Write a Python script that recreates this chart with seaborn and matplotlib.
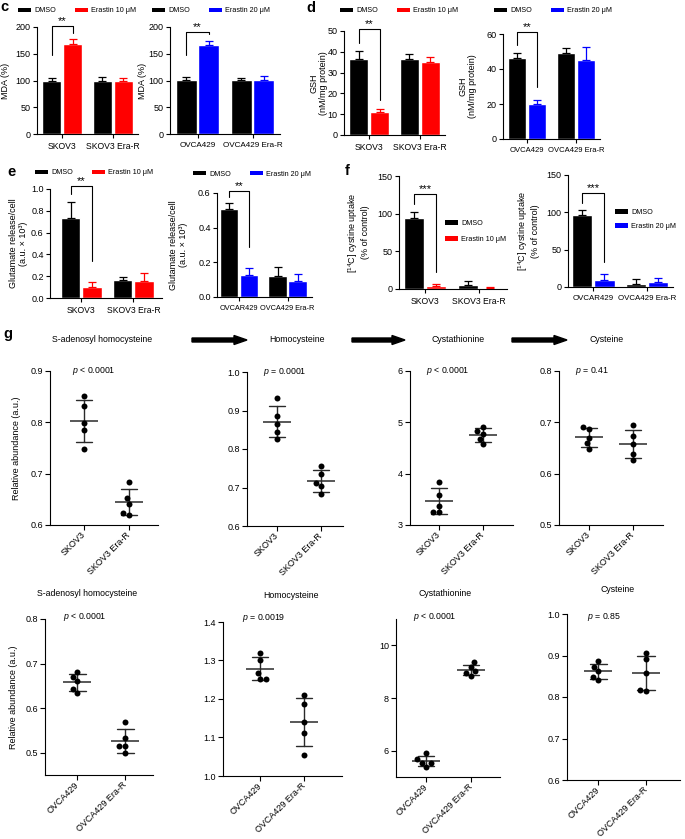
import numpy as np
import pandas as pd
import matplotlib
matplotlib.use("Agg")
import matplotlib.pyplot as plt
import seaborn as sns
from matplotlib.patches import Patch, FancyArrow

# ---------------- data ----------------
skov_cells = ["SKOV3", "SKOV3 Era-R"]
ovca_cells = ["OVCA429", "OVCA429 Era-R"]
ovcar_cells = ["OVCAR429", "OVCA429 Era-R"]
treat10 = ["DMSO", "Erastin 10 \u03bcM"]
treat20 = ["DMSO", "Erastin 20 \u03bcM"]

# order: cell0-DMSO, cell0-Erastin, cell1-DMSO, cell1-Erastin
mda_skov = [100, 168, 100, 100]
mda_skov_err = [5, 9, 6, 4]
mda_ovca = [101, 166, 101, 101]
mda_ovca_err = [6, 8, 4, 7]

gsh_skov = [36.7, 11.0, 36.7, 35.2]
gsh_skov_err = [3.7, 1.3, 2.1, 2.4]
gsh_ovca = [46.1, 19.9, 49.1, 45.3]
gsh_ovca_err = [3.0, 2.5, 2.9, 7.1]

glu_skov = [0.73, 0.101, 0.163, 0.153]
glu_skov_err = [0.147, 0.043, 0.030, 0.077]
glu_ovca = [0.509, 0.126, 0.122, 0.091]
glu_ovca_err = [0.033, 0.042, 0.052, 0.044]

cys_skov = [93.7, 3.5, 4.8, 1.3]
cys_skov_err = [8.8, 3.1, 6.2, 0.9]
cys_ovca = [96.6, 9.8, 4.5, 6.7]
cys_ovca_err = [6.6, 7.6, 6.2, 5.3]

# panel g (relative abundance, 5 replicates each)
sah_skov = [0.851, 0.832, 0.798, 0.785, 0.748]
sah_skov_r = [0.683, 0.652, 0.641, 0.624, 0.620]
hcy_skov = [0.932, 0.887, 0.864, 0.844, 0.827]
hcy_skov_r = [0.755, 0.736, 0.712, 0.704, 0.682]
cth_skov = [3.844, 3.584, 3.37, 3.25, 3.25]
cth_skov_r = [4.91, 4.83, 4.78, 4.67, 4.57]
cys_g_skov = [0.690, 0.687, 0.670, 0.659, 0.648]
cys_g_skov_r = [0.695, 0.674, 0.657, 0.639, 0.627]

sah_ovca = [0.682, 0.670, 0.660, 0.643, 0.634]
sah_ovca_r = [0.570, 0.532, 0.514, 0.514, 0.499]
hcy_ovca = [1.320, 1.302, 1.268, 1.253, 1.253]
hcy_ovca_r = [1.210, 1.187, 1.141, 1.112, 1.054]
cth_ovca = [5.90, 5.68, 5.55, 5.55, 5.39]
cth_ovca_r = [9.36, 9.02, 9.17, 8.96, 8.85]
cys_g_ovca = [0.886, 0.872, 0.862, 0.849, 0.841]
cys_g_ovca_r = [0.907, 0.891, 0.859, 0.817, 0.815]

metabolites = ["S-adenosyl homocysteine", "Homocysteine", "Cystathionine", "Cysteine"]
p_skov = ["$p$ < 0.0001", "$p$ = 0.0001", "$p$ < 0.0001", "$p$ = 0.41"]
p_ovca = ["$p$ < 0.0001", "$p$ = 0.0019", "$p$ < 0.0001", "$p$ = 0.85"]

RED = "#FF0000"
BLUE = "#0000FF"

# ---------------- style ----------------
sns.set_theme(style="ticks")
plt.rcParams["font.family"] = ["Liberation Sans", "DejaVu Sans"]
plt.rcParams.update({
    "mathtext.fontset": "custom",
    "mathtext.rm": "Liberation Sans",
    "mathtext.it": "Liberation Sans:italic",
    "axes.linewidth": 0.8,
    "xtick.major.width": 0.8, "ytick.major.width": 0.8,
    "xtick.major.size": 3, "ytick.major.size": 3,
    "xtick.labelsize": 6.5, "ytick.labelsize": 6.5,
    "xtick.major.pad": 2.5, "ytick.major.pad": 1.5,
    "axes.edgecolor": "black", "xtick.color": "black", "ytick.color": "black",
    "text.color": "black", "axes.labelcolor": "black",
})

W, H = 685, 839
fig = plt.figure(figsize=(W / 100, H / 100), dpi=100)


def fx(x):
    return x / W


def fy(y):
    return 1 - y / H


def add_ax(box):
    x0, y0, x1, y1 = box
    return fig.add_axes([x0 / W, 1 - y1 / H, (x1 - x0) / W, (y1 - y0) / H])


def set_ylabel(ax, box, text, right_x, fs=6.5):
    ax.set_ylabel(text, fontsize=fs, linespacing=1.1)
    ax.yaxis.set_label_coords((right_x - box[0]) / (box[2] - box[0]), 0.5)


def add_legend(ax, labels, colors, x, y, ncol, spacing=1.2):
    handles = [Patch(facecolor=c, edgecolor="none") for c in colors]
    ax.legend(handles, labels, ncol=ncol, frameon=False, loc="center left",
              bbox_to_anchor=(fx(x), fy(y)), bbox_transform=fig.transFigure,
              fontsize=5.2, handlelength=1.8, handleheight=0.6, handletextpad=0.45,
              columnspacing=2.6, borderpad=0, borderaxespad=0, labelspacing=spacing)


def bar_panel(box, cells, treats, means, errs, color2, ylim, yticks, xlim,
              ylabel, ylab_x, bracket, stars, xfs=6.2):
    ax = add_ax(box)
    df = pd.DataFrame({"cell": np.repeat(cells, 2), "treatment": treats * 2, "value": means})
    sns.barplot(data=df, x="cell", y="value", hue="treatment", order=cells, hue_order=treats,
                palette=["black", color2], saturation=1, width=0.82, gap=0.08,
                errorbar=None, legend=False, ax=ax)
    bars = sorted(ax.patches, key=lambda p: p.get_x())
    centers = []
    for p, e in zip(bars, errs):
        xc = p.get_x() + p.get_width() / 2
        centers.append(xc)
        ax.errorbar(xc, p.get_height(), yerr=[[0], [e]], fmt="none", ecolor=p.get_facecolor(),
                    elinewidth=0.9, capsize=3.2, capthick=0.9, clip_on=False)
    yt, yl, yr = bracket
    x0, x1 = centers[0], centers[1]
    ax.plot([x0, x0, x1, x1], [yl, yt, yt, yr], color="black", lw=0.8, clip_on=False)
    ax.text((x0 + x1) / 2, yt, stars, ha="center", va="bottom", fontsize=8, clip_on=False)
    ax.set_ylim(*ylim)
    ax.set_yticks(yticks)
    ax.set_xlim(*xlim)
    ax.set_xlabel("")
    set_ylabel(ax, box, ylabel, ylab_x)
    sns.despine(ax=ax)
    ax.tick_params(axis="x", labelsize=xfs)
    return ax


def dot_panel(box, cells, a, b, ylim, yticks, xlim, ylabel=None, ylab_x=None):
    ax = add_ax(box)
    df = pd.DataFrame({"cell": [cells[0]] * len(a) + [cells[1]] * len(b), "value": a + b})
    sns.pointplot(data=df, x="cell", y="value", order=cells, errorbar="sd", capsize=0.36,
                  color="#2a2a2a", markers="_", linestyles="none", markersize=20,
                  markeredgewidth=1.1, err_kws={"linewidth": 1.0}, ax=ax)
    sns.swarmplot(data=df, x="cell", y="value", order=cells, color="black", size=4.3,
                  ax=ax, zorder=4)
    ax.set_ylim(*ylim)
    ax.set_yticks(yticks)
    ax.set_xlim(*xlim)
    ax.set_xlabel("")
    ax.set_ylabel("")
    if ylabel:
        set_ylabel(ax, box, ylabel, ylab_x)
    sns.despine(ax=ax)
    ax.tick_params(axis="both", length=3.5, labelsize=6.5)
    for lab in ax.get_xticklabels():
        lab.set_rotation(45)
        lab.set_ha("right")
        lab.set_va("center")
        lab.set_rotation_mode("anchor")
    return ax


# ---------------- panel c ----------------
bar_panel((37, 27, 138, 134), skov_cells, treat10, mda_skov, mda_skov_err, RED,
          (0, 200), [0, 50, 100, 150, 200], (-0.5, 1.5), "MDA (%)", 10, (202, 147, 188), "**")
add_legend(fig.axes[-1], treat10, ["black", RED], 18, 11, 2)
bar_panel((170, 27, 280, 134), ovca_cells, treat20, mda_ovca, mda_ovca_err, BLUE,
          (0, 200), [0, 50, 100, 150, 200], (-0.5, 1.5), "MDA (%)", 147, (190, 147, 186), "**",
          xfs=5.9)
add_legend(fig.axes[-1], treat20, ["black", BLUE], 152, 11, 2)

# ---------------- panel d ----------------
bar_panel((344, 31, 445, 135), skov_cells, treat10, gsh_skov, gsh_skov_err, RED,
          (0, 50), [0, 10, 20, 30, 40, 50], (-0.5, 1.5), "GSH\n(nM/mg protein)", 328,
          (51, 44.4, 16.8), "**")
add_legend(fig.axes[-1], treat10, ["black", RED], 340, 11, 2)
bar_panel((503, 34, 600, 139), ovca_cells, treat20, gsh_ovca, gsh_ovca_err, BLUE,
          (0, 60), [0, 20, 40, 60], (-0.5, 1.5), "GSH\n(nM/mg protein)", 477,
          (61, 53.5, 30), "**", xfs=5.5)
add_legend(fig.axes[-1], treat20, ["black", BLUE], 494, 11, 2)

# ---------------- panel e ----------------
bar_panel((50, 189, 162, 298), skov_cells, treat10, glu_skov, glu_skov_err, RED,
          (0, 1.0), [0, 0.2, 0.4, 0.6, 0.8, 1.0], (-0.6, 1.55),
          "Glutamate release/cell\n(a.u. \u00d7 10\u00b3)", 28, (1.03, 0.95, 0.337), "**")
add_legend(fig.axes[-1], treat10, ["black", RED], 35, 173, 2)
bar_panel((217, 193, 312, 297), ovcar_cells, treat20, glu_ovca, glu_ovca_err, BLUE,
          (0, 0.6), [0, 0.2, 0.4, 0.6], (-0.45, 1.5),
          "Glutamate release/cell\n(a.u. \u00d7 10\u00b3)", 188, (0.613, 0.575, 0.29), "**",
          xfs=5.3)
add_legend(fig.axes[-1], treat20, ["black", BLUE], 193, 174, 2)

# ---------------- panel f ----------------
bar_panel((399, 176, 507, 289), skov_cells, treat10, cys_skov, cys_skov_err, RED,
          (0, 150), [0, 50, 100, 150], (-0.49, 1.53),
          "[$^{14}$C] cystine uptake\n(% of control)", 370, (126, 113, 22), "***")
add_legend(fig.axes[-1], treat10, ["black", RED], 445, 231.5, 1, spacing=1.25)
bar_panel((568, 175, 673, 287), ovcar_cells, treat20, cys_ovca, cys_ovca_err, BLUE,
          (0, 150), [0, 50, 100, 150], (-0.47, 1.48),
          "[$^{14}$C] cystine uptake\n(% of control)", 540, (125.5, 112, 33), "***",
          xfs=5.7)
add_legend(fig.axes[-1], treat20, ["black", BLUE], 615, 219.5, 1, spacing=1.0)

# ---------------- panel g ----------------
RA = "Relative abundance (a.u.)"
dot_panel((50, 371, 158, 525), skov_cells, sah_skov, sah_skov_r, (0.6, 0.9),
          [0.6, 0.7, 0.8, 0.9], (-0.76, 1.64), RA, 21)
dot_panel((247, 372, 343, 526), skov_cells, hcy_skov, hcy_skov_r, (0.6, 1.0),
          [0.6, 0.7, 0.8, 0.9, 1.0], (-0.68, 1.5))
dot_panel((410, 371, 513, 525), skov_cells, cth_skov, cth_skov_r, (3, 6),
          [3, 4, 5, 6], (-0.66, 1.68))
dot_panel((559, 371, 663, 525), skov_cells, cys_g_skov, cys_g_skov_r, (0.5, 0.8),
          [0.5, 0.6, 0.7, 0.8], (-0.68, 1.68))

dot_panel((45, 619, 153, 775), ovca_cells, sah_ovca, sah_ovca_r, (0.45, 0.8),
          [0.5, 0.6, 0.7, 0.8], (-0.67, 1.58), RA, 18)
dot_panel((223, 622, 342, 776), ovca_cells, hcy_ovca, hcy_ovca_r, (1.0, 1.4),
          [1.0, 1.1, 1.2, 1.3, 1.4], (-0.84, 1.86))
dot_panel((396, 619, 500, 777), ovca_cells, cth_ovca, cth_ovca_r, (5, 11),
          [6, 8, 10], (-0.67, 1.64))
dot_panel((567, 614, 680, 780), ovca_cells, cys_g_ovca, cys_g_ovca_r, (0.6, 1.0),
          [0.6, 0.7, 0.8, 0.9, 1.0], (-0.65, 1.71))

# ---------------- overlay (letters, titles, arrows, p values) ----------------
ov = fig.add_axes([0, 0, 1, 1])
ov.set_xlim(0, W)
ov.set_ylim(H, 0)
ov.axis("off")

for letter, (x, y) in zip("cdefg", [(0, 0), (306, 1), (7, 165), (345, 164), (3, 327)]):
    ov.text(x, y, letter, fontsize=10.5, fontweight="bold", ha="left", va="top")

for name, xc in zip(metabolites, [102, 297, 458, 607]):
    ov.text(xc, 340, name, fontsize=6.3, ha="center", va="center")
for name, (xc, yc) in zip(metabolites, [(87, 593), (291, 595), (445, 593), (618, 590)]):
    ov.text(xc, yc, name, fontsize=6.3, ha="center", va="center")

for x0, x1 in [(192, 247), (352, 405), (512, 567)]:
    ov.add_patch(FancyArrow(x0, 340, x1 - x0, 0, width=4, head_width=9, head_length=13,
                            length_includes_head=True, color="black"))

for txt, (x, y) in zip(p_skov, [(72, 371), (263, 372), (426, 371), (575, 371)]):
    ov.text(x, y, txt, fontsize=6.3, ha="left", va="center")
for txt, (x, y) in zip(p_ovca, [(63, 617), (242, 618), (413, 617), (587, 617)]):
    ov.text(x, y, txt, fontsize=6.3, ha="left", va="center")

fig.savefig("out.png", dpi=100)
